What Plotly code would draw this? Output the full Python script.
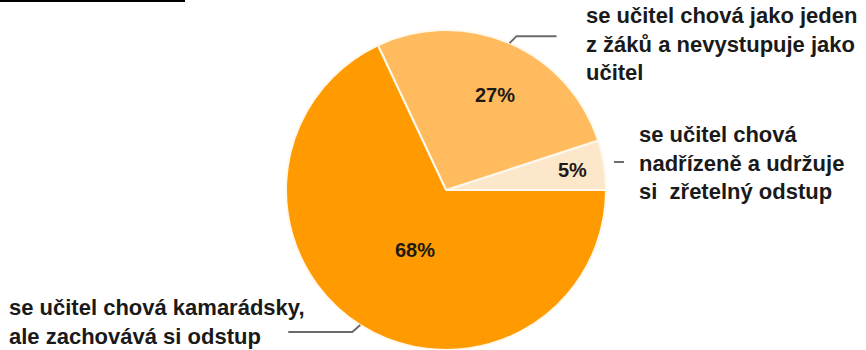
import math
import plotly.graph_objects as go

# Survey answers: how the teacher behaves towards the class
categories = [
    "se učitel chová nadřízeně a udržuje si  zřetelný odstup",
    "se učitel chová jako jeden z žáků a nevystupuje jako učitel",
    "se učitel chová kamarádsky, ale zachovává si odstup",
]
values = [5, 27, 68]
label_lines = [
    ["se učitel chová", "nadřízeně a udržuje", "si  zřetelný odstup"],
    ["se učitel chová jako jeden", "z žáků a nevystupuje jako", "učitel"],
    ["se učitel chová kamarádsky,", "ale zachovává si odstup"],
]
colors = ["#FDE7CB", "#FFBB5E", "#FF9A00"]

W, H = 866, 350
CX, CY, R = 446, 190, 160          # pie centre / radius in pixels


def px(x, y):
    return x / W, 1 - y / H


total = sum(values)
# first slice starts at 3 o'clock and the slices run counterclockwise
# (plotly offsets a counterclockwise pie by the first slice's angle)
first_angle = values[0] / total * 360

fig = go.Figure()
fig.add_trace(go.Pie(
    labels=categories,
    values=values,
    sort=False,
    direction="counterclockwise",
    rotation=90 - first_angle,
    marker=dict(colors=colors, line=dict(color="#FFF8EC", width=2)),
    textinfo="none",
    hoverinfo="label+percent",
    domain=dict(x=[(CX - R) / W, (CX + R) / W],
                y=[(H - CY - R) / H, (H - CY + R) / H]),
    showlegend=False,
))

# slice mid angles (degrees, counterclockwise from 3 o'clock)
mids = []
acc = 0.0
for v in values:
    mids.append((acc + v / 2) / total * 360)
    acc += v

# percentage labels: radial fraction and small angular nudge per slice
inner_frac = [0.80, 0.67, 0.42]
inner_nudge = [0, -4, 5]
annotations = []
for v, a, f, n in zip(values, mids, inner_frac, inner_nudge):
    t = math.radians(a + n)
    x = CX + f * R * math.cos(t)
    y = CY - f * R * math.sin(t)
    ax, ay = px(x, y)
    annotations.append(dict(
        x=ax, y=ay, xref="paper", yref="paper", showarrow=False,
        xanchor="center", yanchor="middle",
        text=f"<b>{round(v / total * 100)}%</b>",
        font=dict(family="Liberation Sans, Arial", size=20, color="#1E1A16"),
    ))

# outer labels (top-left anchor, pixels), same order as values
label_pos = [(637, 120), (584, 1), (7, 293)]
for lines, (lx, ly) in zip(label_lines, label_pos):
    ax, ay = px(lx, ly)
    annotations.append(dict(
        x=ax, y=ay, xref="paper", yref="paper", showarrow=False,
        xanchor="left", yanchor="top", align="left",
        text="<br>".join(f"<b>{t}</b>" for t in lines),
        font=dict(family="Liberation Sans, Arial", size=22, color="#1A1A1A"),
    ))

# leader lines: offsets from the slice's outer edge point
leader_offsets = [
    [(10, -3), (20, -3)],
    [(0, 0), (7, -7), (47, -7)],
    [(0, 0), (-8, 7), (-72, 7)],
]
shapes = []
for a, offs in zip(mids, leader_offsets):
    ex = CX + R * math.cos(math.radians(a))
    ey = CY - R * math.sin(math.radians(a))
    pts = [px(ex + dx, ey + dy) for dx, dy in offs]
    path = "M " + " L ".join(f"{x:.5f},{y:.5f}" for x, y in pts)
    shapes.append(dict(type="path", path=path, xref="paper", yref="paper",
                       line=dict(color="#6B6B6B", width=2)))

# rule at the top-left corner
x0, y0 = px(0, 1)
x1, _ = px(185, 1)
shapes.append(dict(type="line", x0=x0, x1=x1, y0=y0, y1=y0, xref="paper", yref="paper",
                   line=dict(color="#000000", width=2)))

fig.update_layout(
    width=W, height=H,
    margin=dict(l=0, r=0, t=0, b=0),
    paper_bgcolor="#FFFFFF",
    plot_bgcolor="#FFFFFF",
    annotations=annotations,
    shapes=shapes,
)

fig.write_html("out.html")
